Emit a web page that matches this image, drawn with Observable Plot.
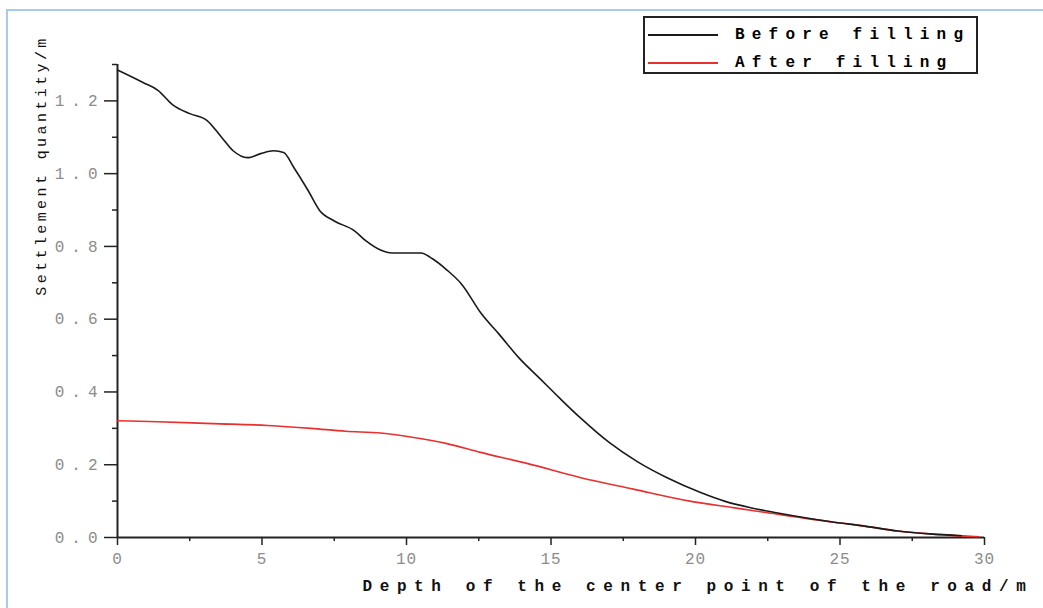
<!DOCTYPE html>
<html>
<head>
<meta charset="utf-8">
<script src="https://cdn.jsdelivr.net/npm/d3@7"></script>
<script src="https://cdn.jsdelivr.net/npm/@observablehq/plot@0.6"></script>
<style>
  html, body { margin: 0; padding: 0; background: #fff; }
  #wrap { position: relative; width: 1043px; height: 608px; overflow: hidden; }
  #frameTop { position: absolute; left: 7px; top: 9px; width: 1036px; height: 2px; background: #a9c9f0; }
  #frameLeft { position: absolute; left: 6px; top: 9px; width: 2px; height: 599px; background: #a9c9f0; }
  #chart { position: absolute; left: 0; top: 0; }
  #chart svg { font-family: "Liberation Mono", monospace; }
  g[aria-label="y-axis tick label"] text { fill: #8c8c8c; letter-spacing: 7px; }
  g[aria-label="x-axis tick label"] text { fill: #8c8c8c; letter-spacing: 1px; }
  #legend { position: absolute; left: 643px; top: 16px; width: 331px; height: 54px; border: 2px solid #222; background: #fff;
            font-family: "Liberation Mono", monospace; font-weight: bold; font-size: 16px; letter-spacing: 7.2px; }
  .row { position: absolute; left: 3px; height: 20px; display: flex; align-items: center; }
  .row .sw { width: 70px; height: 2px; margin-right: 17px; }
</style>
</head>
<body>
<div id="wrap">
  <div id="frameTop"></div>
  <div id="frameLeft"></div>
  <div id="chart"></div>
  <div id="legend"></div>
</div>
<script>
// ---- data ----
const seriesNames = ["Before filling", "After filling"];
const seriesColors = ["#1a1a1a", "#e8302f"];

const beforeX = [0, 0.9, 1.4, 1.9, 2.5, 3.1, 3.6, 4.0, 4.5, 4.95, 5.4, 5.75, 6.1, 6.6, 7.0, 7.5, 8.2, 8.6, 9.1, 9.5, 10.0, 10.5, 10.9, 11.4, 11.9, 12.6, 13.2, 13.9, 14.6, 15.3, 16.0, 17.0, 18.0, 19.0, 20.2, 21.0, 21.9, 22.8, 24.8, 25.8, 27.0, 28.1, 29.2];
const beforeY = [1.285, 1.25, 1.229, 1.19, 1.165, 1.146, 1.10, 1.063, 1.044, 1.055, 1.063, 1.058, 1.017, 0.953, 0.898, 0.87, 0.843, 0.815, 0.79, 0.782, 0.782, 0.782, 0.766, 0.735, 0.697, 0.614, 0.559, 0.493, 0.438, 0.383, 0.33, 0.262, 0.208, 0.165, 0.123, 0.10, 0.082, 0.068, 0.042, 0.032, 0.018, 0.01, 0.005];

const afterX = [0, 1.4, 3.3, 5.2, 6.7, 7.9, 9.1, 10.25, 11.4, 12.56, 14.2, 16.0, 17.85, 19.8, 21.3, 22.5, 24.8, 25.8, 27.0, 28.1, 29.8];
const afterY = [0.321, 0.318, 0.313, 0.308, 0.30, 0.292, 0.287, 0.275, 0.258, 0.234, 0.203, 0.165, 0.133, 0.10, 0.082, 0.068, 0.042, 0.032, 0.018, 0.01, 0.002];

const xTicks = [0, 5, 10, 15, 20, 25, 30];
const xMinor = [2.5, 7.5, 12.5, 17.5, 22.5, 27.5];
const yTicks = [0, 0.2, 0.4, 0.6, 0.8, 1.0, 1.2];
const yTickLabels = ["0.0", "0.2", "0.4", "0.6", "0.8", "1.0", "1.2"];
const yMinor = [0.1, 0.3, 0.5, 0.7, 0.9, 1.1, 1.3];
const xLabel = "Depth of the center point of the road/m";
const yLabel = "Settlement quantity/m";

// ---- build ----
const before = beforeX.map((x, i) => ({x, y: beforeY[i]}));
const after = afterX.map((x, i) => ({x, y: afterY[i]}));

const chart = Plot.plot({
  width: 1043,
  height: 608,
  marginLeft: 117,
  marginRight: 59,
  marginTop: 64,
  marginBottom: 71,
  x: {domain: [0, 30]},
  y: {domain: [0, 1.3]},
  style: {background: "transparent", overflow: "visible"},
  marks: [
    Plot.axisX(xMinor, {tickSize: 4, strokeWidth: 1.5, stroke: "#222", tickFormat: () => "", label: null}),
    Plot.axisX(xTicks, {tickSize: 8, tickPadding: 7, strokeWidth: 1.5, stroke: "#222", fontSize: 16, tickFormat: d => String(d), label: null}),
    Plot.axisY(yMinor, {tickSize: 5, strokeWidth: 1.5, stroke: "#222", tickFormat: () => "", label: null}),
    Plot.axisY(yTicks, {tickSize: 13, tickPadding: 0, strokeWidth: 1.5, stroke: "#222", fontSize: 16, tickFormat: d => yTickLabels[yTicks.indexOf(d)], label: null}),
    Plot.ruleY([0], {x1: 0, x2: 30, stroke: "#222", strokeWidth: 2}),
    Plot.ruleX([0], {y1: 0, y2: 1.3, stroke: "#222", strokeWidth: 2}),
    Plot.line(after, {x: "x", y: "y", stroke: seriesColors[1], strokeWidth: 1.6, curve: "monotone-x"}),
    Plot.line(before, {x: "x", y: "y", stroke: seriesColors[0], strokeWidth: 1.6, curve: "monotone-x"}),
    Plot.text([xLabel], {frameAnchor: "bottom-left", dx: 245, dy: 53, textAnchor: "start", fontSize: 16, fontWeight: "bold", fill: "#111"}),
    Plot.text([yLabel], {frameAnchor: "top-left", dx: -82, dy: 101, rotate: -90, textAnchor: "middle", fontSize: 15, fill: "#111"})
  ]
});
document.getElementById("chart").appendChild(chart);
d3.select(chart).selectAll("text").filter(function () { return this.textContent === xLabel; }).style("letter-spacing", "7.6px");
d3.select(chart).selectAll("text").filter(function () { return this.textContent === yLabel; }).style("letter-spacing", "3.4px");

// legend
const legend = document.getElementById("legend");
seriesNames.forEach((name, i) => {
  const row = document.createElement("div");
  row.className = "row";
  row.style.top = (i === 0 ? 7 : 35) + "px";
  const sw = document.createElement("div");
  sw.className = "sw";
  sw.style.background = seriesColors[i];
  const t = document.createElement("span");
  t.textContent = name;
  row.appendChild(sw);
  row.appendChild(t);
  legend.appendChild(row);
});
</script>
</body>
</html>
